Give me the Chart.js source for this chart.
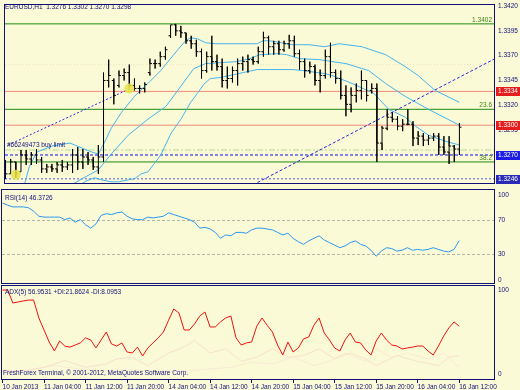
<!DOCTYPE html>
<html><head><meta charset="utf-8">
<script src="https://cdn.jsdelivr.net/npm/chart.js@4.4.1/dist/chart.umd.min.js"></script>
<style>
html,body{margin:0;padding:0;background:#fbfad6;width:520px;height:390px;overflow:hidden}
.p{position:absolute;left:0;width:520px}
canvas{display:block}
</style></head><body>
<div class="p" style="top:0;height:189px"><canvas id="c1" width="520" height="189"></canvas></div>
<div class="p" style="top:189px;height:96px"><canvas id="c2" width="520" height="96"></canvas></div>
<div class="p" style="top:285px;height:105px"><canvas id="c3" width="520" height="105"></canvas></div>
<script>
// ---------- DATA (EURUSD H1, bar index 0 = 10 Jan 2013 20:00) ----------
const opens = [1.3260,1.3251,1.3263,1.3253,1.3270,1.3266,1.3270,1.3265,1.3256,1.3258,
1.3256,1.3260,1.3258,1.3260,1.3270,1.3263,1.3268,1.3265,1.3258,1.3268,
1.3345,1.3345,1.3340,1.3350,1.3353,1.3340,1.3337,1.3337,1.3353,1.3362,
1.3362,1.3369,1.3390,1.3401,1.3395,1.3393,1.3385,1.3382,1.3374,1.3355,
1.3369,1.3364,1.3359,1.3345,1.3347,1.3355,1.3362,1.3364,1.3366,1.3364,
1.3374,1.3388,1.3379,1.3382,1.3376,1.3382,1.3385,1.3372,1.3364,1.3355,
1.3359,1.3345,1.3350,1.3369,1.3353,1.3347,1.3330,1.3321,1.3330,1.3335,
1.3345,1.3335,1.3337,1.3282,1.3297,1.3308,1.3306,1.3299,1.3301,1.3301,
1.3287,1.3289,1.3285,1.3287,1.3289,1.3278,1.3273,1.3279,1.3276];
const highs = [1.3265,1.3266,1.3263,1.3275,1.3275,1.3273,1.3276,1.3268,1.3261,1.3261,
1.3263,1.3265,1.3263,1.3276,1.3278,1.3276,1.3273,1.3268,1.3280,1.3353,
1.3366,1.3347,1.3355,1.3357,1.3361,1.3347,1.3340,1.3343,1.3367,1.3366,
1.3374,1.3379,1.3401,1.3402,1.3400,1.3393,1.3390,1.3386,1.3377,1.3374,
1.3390,1.3371,1.3367,1.3359,1.3359,1.3367,1.3369,1.3371,1.3369,1.3379,
1.3394,1.3390,1.3385,1.3385,1.3385,1.3391,1.3390,1.3376,1.3367,1.3364,
1.3361,1.3356,1.3376,1.3383,1.3356,1.3355,1.3340,1.3338,1.3342,1.3355,
1.3345,1.3342,1.3342,1.3299,1.3316,1.3313,1.3309,1.3306,1.3316,1.3304,
1.3294,1.3292,1.3290,1.3292,1.3292,1.3289,1.3289,1.3280,1.3302];
const lows = [1.3246,1.3251,1.3247,1.3253,1.3260,1.3260,1.3261,1.3252,1.3252,1.3253,
1.3252,1.3253,1.3255,1.3252,1.3255,1.3256,1.3260,1.3255,1.3251,1.3263,
1.3338,1.3321,1.3338,1.3345,1.3338,1.3335,1.3332,1.3333,1.3350,1.3357,
1.3359,1.3366,1.3388,1.3390,1.3388,1.3382,1.3377,1.3369,1.3347,1.3353,
1.3355,1.3355,1.3338,1.3337,1.3343,1.3340,1.3355,1.3353,1.3361,1.3362,
1.3369,1.3371,1.3371,1.3371,1.3374,1.3377,1.3369,1.3356,1.3348,1.3352,
1.3340,1.3333,1.3347,1.3348,1.3342,1.3326,1.3309,1.3313,1.3323,1.3326,
1.3324,1.3332,1.3263,1.3275,1.3295,1.3303,1.3295,1.3294,1.3300,1.3279,
1.3280,1.3279,1.3280,1.3284,1.3270,1.3270,1.3261,1.3263,1.3270];
const closes = [1.3251,1.3263,1.3251,1.3270,1.3266,1.3270,1.3265,1.3256,1.3258,1.3256,
1.3260,1.3258,1.3260,1.3270,1.3263,1.3268,1.3265,1.3258,1.3268,1.3345,
1.3350,1.3330,1.3350,1.3353,1.3340,1.3337,1.3337,1.3341,1.3362,1.3362,
1.3369,1.3376,1.3401,1.3395,1.3393,1.3385,1.3382,1.3374,1.3355,1.3369,
1.3364,1.3359,1.3345,1.3347,1.3355,1.3362,1.3364,1.3366,1.3364,1.3374,
1.3388,1.3379,1.3382,1.3376,1.3382,1.3385,1.3372,1.3364,1.3355,1.3359,
1.3345,1.3350,1.3369,1.3353,1.3347,1.3330,1.3321,1.3330,1.3335,1.3345,
1.3330,1.3337,1.3282,1.3297,1.3308,1.3306,1.3299,1.3301,1.3301,1.3287,
1.3289,1.3285,1.3287,1.3289,1.3278,1.3273,1.3279,1.3276,1.3298];

// Bollinger bands: [bar index, price]
const bbUpper = [[3.6,1.3239],[4.6,1.3258],[6.1,1.3273],[9.0,1.3279],[12.5,1.3282],[16.7,1.3273],[18.0,1.3271],
[19.6,1.3287],[20.5,1.3297],[22.5,1.3313],[25.0,1.3329],[27.6,1.3342],[30.1,1.3355],[33.4,1.3376],[34.9,1.3385],
[35.9,1.3388],[37.2,1.3387],[38.8,1.3383],[40.7,1.3382],[48.8,1.3382],[49.9,1.3385],[51.2,1.3385],[55.7,1.3381],
[58.9,1.3381],[61.8,1.3379],[64.7,1.3382],[69.1,1.3379],[73.7,1.3371],[77.5,1.3359],[80.0,1.3350],[83.3,1.3335],[88,1.3323]];
const bbMiddle = [[12.5,1.3239],[14.8,1.3246],[18.0,1.3255],[20.5,1.3271],[23.8,1.3290],[27.6,1.3306],[31.1,1.3319],
[33.4,1.3335],[36.5,1.3357],[38.8,1.3362],[41.7,1.3363],[44.9,1.3364],[47.4,1.3367],[49.3,1.3371],[52.6,1.3372],
[54.5,1.3371],[57.0,1.3367],[60.8,1.3366],[66.0,1.3362],[70.4,1.3355],[73.7,1.3342],[77.5,1.3329],[82.0,1.3316],[88,1.3300]];
const bbLower = [[14.2,1.3239],[15.7,1.3244],[17.3,1.3247],[18.6,1.3245],[20.5,1.3243],[21.9,1.3243],[23.8,1.3245],
[25.0,1.3246],[26.3,1.3251],[27.6,1.3253],[28.8,1.3261],[30.1,1.3270],[32.1,1.3292],[34.0,1.3306],[35.9,1.3323],
[37.2,1.3332],[38.4,1.3341],[39.7,1.3347],[41.7,1.3348],[46.1,1.3353],[48.8,1.3356],[55.7,1.3356],[57.6,1.3355],
[61.8,1.3352],[63.3,1.3350],[67.2,1.3342],[71.4,1.3332],[74.3,1.3316],[77.5,1.3308],[79.5,1.3299],[82.0,1.3290],
[85.2,1.3284],[88,1.3280]];

// horizontal price levels
const greenLevels = [1.3402, 1.3316, 1.3263];
const salmonLevels = [1.3334, 1.3300];
const fibLabels = ['1.3402', '23.6', '38.2'];
const buyLimit = 1.3270;
const dashDotLevel = 1.3275;
const lowerDotted = 1.3246;
const faintLevel = 1.3361;
const priceBoxes = [1.3334, 1.3300, 1.3270, 1.3246];

// trend / history lines and arrows [bar index, price]
const trend1 = [[0.5,1.3280],[24.2,1.3337]];
const trend2 = [[48,1.3240],[94.9,1.3367]];
const arrows = [[2,1.3250],[24,1.3337]];

const priceTicks = [1.3420,1.3395,1.3370,1.3345,1.3320,1.3295,1.3270,1.3245];

const rsi = [90.6,88,86,86,86,85,81,75,74,74,
74,74,71,73,68,71,65,61,66,76,
78,77,79,80,75,72,71,71,74,73,
74,75,79,77,75,73,71,68,61,62,
60,56,49,53,52,56,56,55,59,61,
61,60,59,56,53,55,49,45,42,46,
49,52,47,44,41,38,40,44,46,42,
40,35,28,34,38,37,34,35,38,35,
36,35,36,38,36,34,33,36,46.37];
const rsiLevels = [70, 30];
const rsiTicks = [100, 70, 30, 0];

const adx = [100,100,84.5,85.7,87,88,88,66.7,52.4,38,
27.4,39.3,33.3,32,34.5,37,43,40.5,31,40.5,
50,35.7,33.3,37,26.2,25,32,21.4,31,37,
43,50,64,77.4,72.6,52.4,52.4,59.5,69,73.8,
56,56,62,66.7,69,43,34.5,37,38,57,
66.7,58,50,34.5,22.6,38,26.2,31,41.7,44,
58,66.7,48.8,40.5,31,27.4,40.5,48.8,38,37,
28.6,22.6,39.3,48.8,40.5,34.5,33.3,29.8,31,32,
33.3,33.3,27.4,22.6,33.3,45,54.8,62,56.95];
const plusDI = [[0,5],[4,3],[8,8],[12,16],[16,8],[20,12],[22,18],[25,20],[28,10],[32,25],[35,32],[37,40],[40,25],
[43,30],[46,15],[49,20],[52,30],[55,20],[58,22],[61,30],[64,18],[67,25],[70,18],[72,10],[76,22],[80,15],[84,10],[86,20],[88,21.86]];
const minusDI = [[0,3],[5,5],[10,10],[15,6],[19,4],[24,5],[30,3],[36,4],[40,6],[44,8],[48,14],[52,12],[56,20],[60,10],
[63,15],[66,25],[70,15],[72,30],[75,20],[78,25],[82,18],[85,25],[88,8.1]];
const adxTicks = [100, 0];

const timeTickIdx = [0,8,16,24,32,40,48,56,64,72,80,88];
const timeLabels = ['10 Jan 2013','11 Jan 04:00','11 Jan 12:00','11 Jan 20:00','14 Jan 04:00','14 Jan 12:00',
'14 Jan 20:00','15 Jan 04:00','15 Jan 12:00','15 Jan 20:00','16 Jan 04:00','16 Jan 12:00'];

// ---------- STYLE ----------
const FONT = '"Liberation Sans", Arial, sans-serif';
const FS = 6.5;
const NAVY = '#10107a';
const XMIN = -0.1, XMAX = 94.9;
const BB_COLOR = '#45b4ec';

const pairs = a => a.map(p => ({x: p[0], y: p[1]}));
const hline = (v, color, dash, order) => ({type:'line', data:[{x:XMIN,y:v},{x:XMAX,y:v}], borderColor:color,
  borderWidth:1, borderDash:dash||[], pointRadius:0, order:order||5});

const barPts = [];
for (let i = 0; i < opens.length; i++) {
  barPts.push({x:i-0.4,y:opens[i]},{x:i,y:opens[i]},{x:i,y:highs[i]},{x:i,y:lows[i]},
              {x:i,y:closes[i]},{x:i+0.4,y:closes[i]},{x:i+0.4,y:null});
}

const frame = {id:'frame', afterDraw(ch){ const c=ch.ctx,a=ch.chartArea; c.save(); c.strokeStyle='#101078'; c.lineWidth=1;
  c.strokeRect(a.left-0.5,a.top-0.5,a.right-a.left,a.bottom-a.top); c.restore(); }};

function yAxis(min, max, ticks, fmt){
  return {type:'linear', position:'right', min, max,
    afterBuildTicks: s => { s.ticks = ticks.map(v => ({value:v})); },
    afterFit: s => { s.width = 25; s.paddingTop = 0; s.paddingBottom = 0; },
    grid:{display:false, drawTicks:false}, border:{display:false},
    ticks:{padding:3, color:NAVY, font:{family:FONT, size:FS}, callback:fmt}};
}
const hiddenX = {type:'linear', min:XMIN, max:XMAX, display:false};
const common = {responsive:false, animation:false, devicePixelRatio:1, events:[],
  plugins:{legend:{display:false}, tooltip:{enabled:false}}};

// ---------- MAIN PRICE PANEL ----------
const mainOverlay = {id:'mainOverlay', afterDraw(ch){
  const c = ch.ctx, y = ch.scales.y, a = ch.chartArea;
  c.save();
  c.font = FS + 'px ' + FONT; c.textBaseline = 'middle';
  c.fillStyle = NAVY; c.textAlign = 'left';
  c.fillText('EURUSD,H1  1.3276 1.3302 1.3270 1.3298', 5, 7);
  c.fillText('#66249473 buy limit', 7, y.getPixelForValue(buyLimit) - 10);
  c.fillStyle = '#3f7f14'; c.textAlign = 'right'; c.textBaseline = 'alphabetic';
  greenLevels.forEach((v,k) => c.fillText(fibLabels[k], a.right - 3, y.getPixelForValue(v) - 2));
  const boxCols = ['#e41c1c','#e41c1c','#1c1ce4','#2a2ab8'];
  c.textAlign = 'left'; c.textBaseline = 'middle';
  priceBoxes.forEach((v,k) => {
    const py = Math.round(y.getPixelForValue(v));
    c.fillStyle = boxCols[k]; c.fillRect(a.right + 1, py - 4, 25, 9);
    c.fillStyle = '#ffffff'; c.fillText(v.toFixed(4), a.right + 3, py + 0.5);
  });
  c.restore();
}};

new Chart(document.getElementById('c1'), {
  type:'line',
  data:{datasets:[
    {data:barPts, borderColor:'#000000', borderWidth:1, pointRadius:0, spanGaps:false, tension:0, order:1},
    {type:'scatter', data:pairs(arrows), pointRadius:5, backgroundColor:'rgba(232,226,70,0.85)', borderWidth:0, order:0},
    {data:pairs(bbUpper), borderColor:BB_COLOR, borderWidth:1, pointRadius:0, order:2},
    {data:pairs(bbMiddle), borderColor:BB_COLOR, borderWidth:1, pointRadius:0, order:2},
    {data:pairs(bbLower), borderColor:BB_COLOR, borderWidth:1, pointRadius:0, order:2},
    {data:pairs(trend1), borderColor:'#2828d8', borderWidth:1, borderDash:[2,2], pointRadius:0, order:3},
    {data:pairs(trend2), borderColor:'#2828d8', borderWidth:1, borderDash:[3,2], pointRadius:0, order:3},
    ...greenLevels.map(v => hline(v, '#1f8a12')),
    ...salmonLevels.map(v => hline(v, '#f08a78')),
    hline(buyLimit, '#1010f0', [3,2]),
    hline(dashDotLevel, '#b8dc98', [6,2,2,2]),
    hline(lowerDotted, '#5a5af0', [2,2]),
    hline(faintLevel, '#ebe3c2', [1,2], 6)
  ]},
  options:{...common, layout:{padding:{left:2, top:1, bottom:1, right:0}},
    scales:{x:hiddenX, y:yAxis(1.32408, 1.34210, priceTicks, v => v.toFixed(4))}},
  plugins:[frame, mainOverlay]
});

// ---------- RSI PANEL ----------
const rsiOverlay = {id:'rsiOverlay', afterDraw(ch){ const c=ch.ctx; c.save(); c.font=FS+'px '+FONT;
  c.fillStyle=NAVY; c.textBaseline='middle'; c.fillText('RSI(14) 46.3726', 5, 9); c.restore(); }};
new Chart(document.getElementById('c2'), {
  type:'line',
  data:{datasets:[
    {data:rsi.map((v,i)=>({x:i,y:v})), borderColor:'#2a98f0', borderWidth:1, pointRadius:0, tension:0, order:1},
    ...rsiLevels.map(v => hline(v, '#b4b4a8', [3,2]))
  ]},
  options:{...common, layout:{padding:{left:2, top:1, bottom:1, right:0}},
    scales:{x:hiddenX, y:yAxis(-4.71, 105.88, rsiTicks, v => String(v))}},
  plugins:[frame, rsiOverlay]
});

// ---------- ADX PANEL ----------
const adxOverlay = {id:'adxOverlay', afterDraw(ch){ const c=ch.ctx, a=ch.chartArea; c.save(); c.font=FS+'px '+FONT;
  c.fillStyle=NAVY; c.textBaseline='middle';
  c.fillText('ADX(5) 56.9531 +DI:21.8624 -DI:8.0953', 5, 7);
  c.fillText('FreshForex Terminal, \u00a9 2001-2012, MetaQuotes Software Corp.', 3, a.bottom - 7);
  c.restore(); }};
new Chart(document.getElementById('c3'), {
  type:'line',
  data:{datasets:[
    {data:adx.map((v,i)=>({x:i,y:v})), borderColor:'#f01010', borderWidth:1, pointRadius:0, tension:0, order:1},
    {data:pairs(plusDI), borderColor:'#f7e0cc', borderWidth:1, pointRadius:0, order:2},
    {data:pairs(minusDI), borderColor:'#f6ead6', borderWidth:1, pointRadius:0, order:3}
  ]},
  options:{...common, layout:{padding:{left:2, top:1, bottom:0, right:0}},
    scales:{
      x:{type:'linear', position:'bottom', min:XMIN, max:XMAX,
        afterBuildTicks: s => { s.ticks = timeTickIdx.map(v => ({value:v})); },
        afterFit: s => { s.height = 10; s.paddingLeft = 0; s.paddingRight = 0; },
        grid:{drawOnChartArea:false, drawTicks:true, tickLength:3, color:'#101078'}, border:{display:false},
        ticks:{align:'start', padding:0, autoSkip:false, maxRotation:0, minRotation:0, color:NAVY,
          font:{family:FONT, size:FS}, callback: v => timeLabels[timeTickIdx.indexOf(v)]}},
      y:yAxis(-7.14, 104.76, adxTicks, v => String(v))}},
  plugins:[frame, adxOverlay]
});
</script>
</body></html>
